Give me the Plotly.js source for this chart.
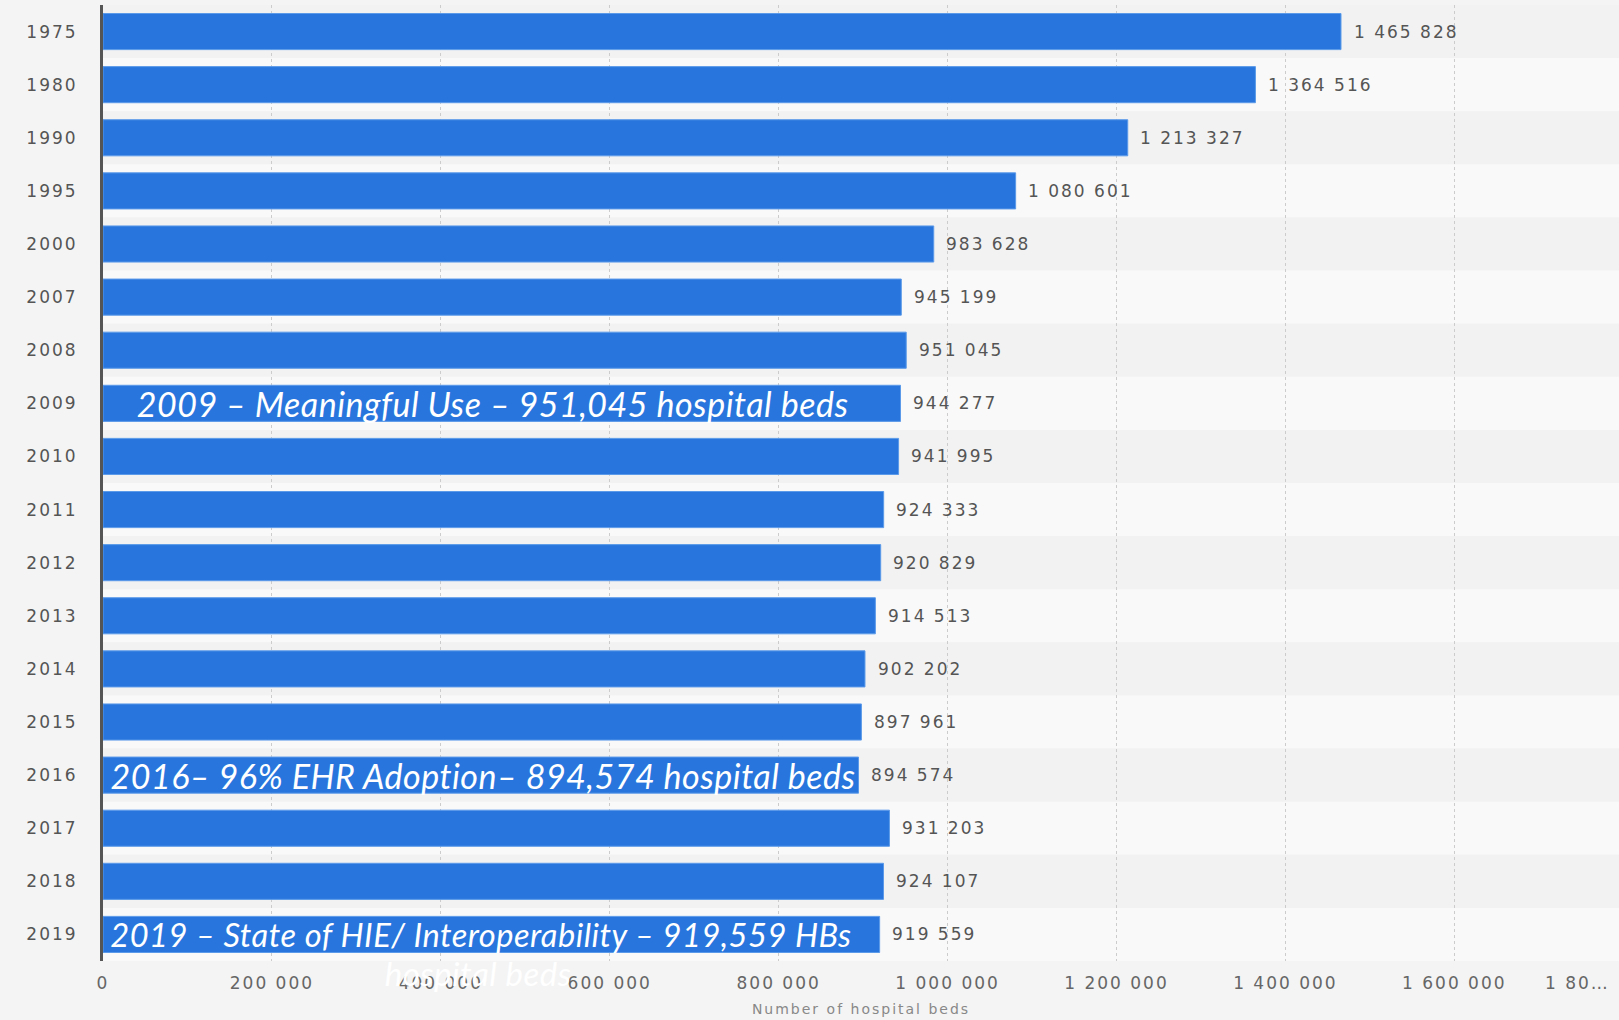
<!DOCTYPE html>
<html>
<head>
<meta charset="utf-8">
<script src="https://cdn.plot.ly/plotly-3.0.1.min.js"></script>
<style>
html,body{margin:0;padding:0;background:#f4f4f4;}
#chart{width:1619px;height:1020px;}
#chart text[style*="DejaVu Sans"]{letter-spacing:2px;}
#chart text[style*="Lato"]{letter-spacing:0.5px;}
</style>
</head>
<body>
<div id="chart"></div>
<script>
const years = ["1975","1980","1990","1995","2000","2007","2008","2009","2010","2011","2012","2013","2014","2015","2016","2017","2018","2019"];
const beds = [1465828,1364516,1213327,1080601,983628,945199,951045,944277,941995,924333,920829,914513,902202,897961,894574,931203,924107,919559];
const xTickVals = [0,200000,400000,600000,800000,1000000,1200000,1400000,1600000];
const noteYears = ["2009","2016","2019"];
const noteTexts = [
  "2009 – Meaningful Use – 951,045 hospital beds",
  "2016– 96% EHR Adoption– 894,574 hospital beds",
  "2019 – State of HIE/ Interoperability – 919,559 HBs"
];
const noteShift = [33, 7, 7];
const noteSize = [34, 34, 32.6];

function fmt(n){return String(n).replace(/\B(?=(\d{3})+(?!\d))/g," ");}
const idx = years.map((y,i)=>i);
const numFont = "DejaVu Sans, sans-serif";

const shapes = years.map((y,i)=>({
  type:"rect", layer:"below", xref:"paper", x0:0, x1:1, yref:"y", y0:i-0.5, y1:i+0.5,
  fillcolor: i%2===0 ? "#f2f2f2" : "#f9f9f9", line:{width:0}
}));

const annotations = years.map((y,i)=>{
  const t = fmt(beds[i]);
  return {
    x:beds[i], y:i, xref:"x", yref:"y", text:t, showarrow:false,
    xanchor:"left", xshift:11 + t.length*0.95, font:{family:numFont, size:17, color:"#555"}
  };
});
noteYears.forEach((ny,k)=>annotations.push({
  x:0, y:years.indexOf(ny), xref:"x", yref:"y", text:noteTexts[k], showarrow:false, xanchor:"left",
  xshift:noteShift[k] + noteTexts[k].length*0.22,
  font:{family:"Lato, sans-serif", size:noteSize[k], color:"#ffffff", style:"italic"}
}));
annotations.push({xref:"paper", yref:"paper", x:(386-103)/1516, y:-0.013, xanchor:"left", yanchor:"middle",
  text:"hospital beds", showarrow:false, font:{family:"Lato, sans-serif", size:33, color:"#ffffff", style:"italic"}});
annotations.push({xref:"paper", yref:"paper", x:(1548-103)/1516, y:-0.023, xanchor:"left", yanchor:"middle",
  text:"1 80…", showarrow:false, font:{family:numFont, size:17, color:"#666"}});

const trace = {
  type:"bar", orientation:"h", x:beds, y:idx,
  marker:{color:"#2876dd", line:{color:"#5b9ae9", width:1}},
  hoverinfo:"x"
};

const layout = {
  width:1619, height:1020,
  paper_bgcolor:"#f4f4f4", plot_bgcolor:"rgba(0,0,0,0)",
  margin:{l:103, r:0, t:5, b:59},
  separators:". ",
  bargap:0.32,
  showlegend:false,
  xaxis:{
    range:[0,1795000], tickvals:xTickVals, tickformat:",d",
    showgrid:true, gridcolor:"#cccccc", griddash:"dot", gridwidth:1,
    zeroline:false, showline:false, ticks:"", ticklabelstandoff:10,
    tickfont:{family:numFont, size:17, color:"#666"},
    title:{text:"Number of hospital beds", font:{family:numFont, size:14, color:"#888"}, standoff:12},
    fixedrange:true
  },
  yaxis:{
    type:"linear", range:[17.5,-0.5], tickvals:idx, ticktext:years,
    showgrid:false, zeroline:false, showline:true, linecolor:"#555", linewidth:3,
    ticks:"", ticklabelstandoff:19,
    tickfont:{family:numFont, size:17, color:"#555"},
    fixedrange:true
  },
  shapes:shapes,
  annotations:annotations
};

Plotly.newPlot("chart",[trace],layout,{displayModeBar:false,staticPlot:true});
</script>
</body>
</html>
